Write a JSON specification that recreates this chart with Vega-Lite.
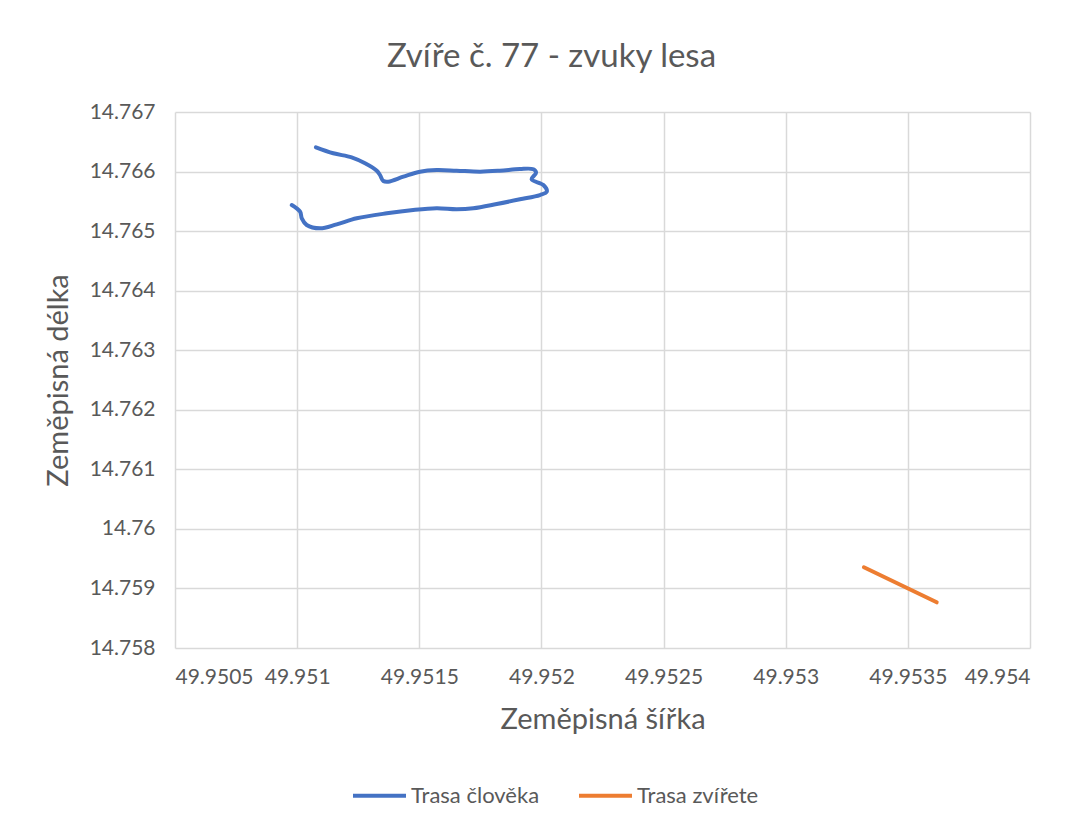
{
  "$schema": "https://vega.github.io/schema/vega-lite/v6.json",
  "width": 855,
  "height": 536,
  "autosize": "none",
  "padding": {"left": 175, "top": 112, "right": 50, "bottom": 178},
  "background": "white",
  "title": {
    "text": "Zvíře č. 77 - zvuky lesa",
    "font": "Lato",
    "fontSize": 33,
    "fontWeight": "normal",
    "color": "#595959",
    "dx": -51,
    "offset": 27
  },
  "data": {
    "values": [
      {"i": 1, "s": "Trasa člověka", "lat": 49.951077, "lon": 14.766407},
      {"i": 2, "s": "Trasa člověka", "lat": 49.951148, "lon": 14.766307},
      {"i": 3, "s": "Trasa člověka", "lat": 49.951223, "lon": 14.766239},
      {"i": 4, "s": "Trasa člověka", "lat": 49.951278, "lon": 14.766139},
      {"i": 5, "s": "Trasa člověka", "lat": 49.951326, "lon": 14.766014},
      {"i": 6, "s": "Trasa člověka", "lat": 49.951339, "lon": 14.765942},
      {"i": 7, "s": "Trasa člověka", "lat": 49.951353, "lon": 14.765841},
      {"i": 8, "s": "Trasa člověka", "lat": 49.951373, "lon": 14.76583},
      {"i": 9, "s": "Trasa člověka", "lat": 49.951435, "lon": 14.765914},
      {"i": 10, "s": "Trasa člověka", "lat": 49.951503, "lon": 14.765998},
      {"i": 11, "s": "Trasa člověka", "lat": 49.951571, "lon": 14.766026},
      {"i": 12, "s": "Trasa člověka", "lat": 49.951653, "lon": 14.766014},
      {"i": 13, "s": "Trasa člověka", "lat": 49.951749, "lon": 14.765998},
      {"i": 14, "s": "Trasa člověka", "lat": 49.95183, "lon": 14.766014},
      {"i": 15, "s": "Trasa člověka", "lat": 49.951912, "lon": 14.766043},
      {"i": 16, "s": "Trasa člověka", "lat": 49.951967, "lon": 14.766038},
      {"i": 17, "s": "Trasa člověka", "lat": 49.951978, "lon": 14.765981},
      {"i": 18, "s": "Trasa člověka", "lat": 49.95196, "lon": 14.76587},
      {"i": 19, "s": "Trasa člověka", "lat": 49.952008, "lon": 14.765774},
      {"i": 20, "s": "Trasa člověka", "lat": 49.952022, "lon": 14.765662},
      {"i": 21, "s": "Trasa člověka", "lat": 49.951994, "lon": 14.765606},
      {"i": 22, "s": "Trasa člověka", "lat": 49.951912, "lon": 14.765534},
      {"i": 23, "s": "Trasa člověka", "lat": 49.951817, "lon": 14.765455},
      {"i": 24, "s": "Trasa člověka", "lat": 49.951721, "lon": 14.765383},
      {"i": 25, "s": "Trasa člověka", "lat": 49.951653, "lon": 14.765366},
      {"i": 26, "s": "Trasa člověka", "lat": 49.951571, "lon": 14.765383},
      {"i": 27, "s": "Trasa člověka", "lat": 49.951475, "lon": 14.765354},
      {"i": 28, "s": "Trasa člověka", "lat": 49.951367, "lon": 14.765299},
      {"i": 29, "s": "Trasa člověka", "lat": 49.951244, "lon": 14.765215},
      {"i": 30, "s": "Trasa člověka", "lat": 49.951162, "lon": 14.765114},
      {"i": 31, "s": "Trasa člověka", "lat": 49.951094, "lon": 14.765047},
      {"i": 32, "s": "Trasa člověka", "lat": 49.951039, "lon": 14.765103},
      {"i": 33, "s": "Trasa člověka", "lat": 49.951019, "lon": 14.765215},
      {"i": 34, "s": "Trasa člověka", "lat": 49.951012, "lon": 14.765326},
      {"i": 35, "s": "Trasa člověka", "lat": 49.950978, "lon": 14.765438},
      {"i": 1, "s": "Trasa zvířete", "lat": 49.95332, "lon": 14.759355},
      {"i": 2, "s": "Trasa zvířete", "lat": 49.953618, "lon": 14.758767}
    ]
  },
  "mark": {"type": "line", "strokeWidth": 4, "interpolate": "catmull-rom", "strokeCap": "round", "strokeJoin": "round"},
  "encoding": {
    "x": {
      "field": "lat",
      "type": "quantitative",
      "scale": {"domain": [49.9505, 49.954], "zero": false, "nice": false},
      "axis": {
        "title": "Zeměpisná šířka",
        "values": [49.9505, 49.951, 49.9515, 49.952, 49.9525, 49.953, 49.9535, 49.954],
        "format": ".4~f",
        "labelPadding": 18,
        "titlePadding": 18
      }
    },
    "y": {
      "field": "lon",
      "type": "quantitative",
      "scale": {"domain": [14.758, 14.767], "zero": false, "nice": false},
      "axis": {
        "title": "Zeměpisná délka",
        "values": [14.758, 14.759, 14.76, 14.761, 14.762, 14.763, 14.764, 14.765, 14.766, 14.767],
        "format": ".3~f",
        "labelPadding": 20,
        "titlePadding": 16
      }
    },
    "order": {"field": "i", "type": "quantitative"},
    "color": {
      "field": "s",
      "type": "nominal",
      "scale": {"domain": ["Trasa člověka", "Trasa zvířete"], "range": ["#4472C4", "#ED7D31"]},
      "legend": {
        "title": null,
        "orient": "none",
        "direction": "horizontal",
        "legendX": 176,
        "legendY": 655,
        "symbolType": "stroke",
        "symbolSize": 2809,
        "symbolStrokeWidth": 4,
        "labelFontSize": 22,
        "labelFont": "Lato",
        "labelColor": "#595959",
        "columnPadding": 31,
        "labelOffset": 3
      }
    }
  },
  "config": {
    "view": {"stroke": null},
    "axis": {
      "domain": false,
      "ticks": false,
      "grid": true,
      "gridColor": "#d9d9d9",
      "gridWidth": 1.5,
      "labelFont": "Lato",
      "labelFontSize": 21,
      "labelColor": "#595959",
      "titleFont": "Lato",
      "titleFontSize": 29,
      "titleFontWeight": "normal",
      "titleColor": "#595959"
    }
  }
}
